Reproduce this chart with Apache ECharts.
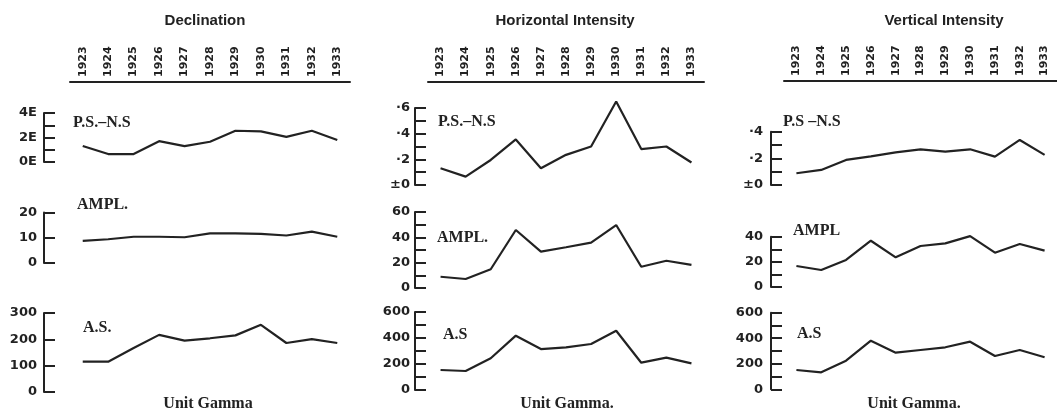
<!DOCTYPE html>
<html><head><meta charset="utf-8">
<script src="https://cdn.jsdelivr.net/npm/echarts@6/dist/echarts.min.js"></script>
<style>html,body{margin:0;padding:0;background:#fff}#c{width:1057px;height:415px}</style>
</head><body><div id="c"></div>
<script>
const years = ['1923','1924','1925','1926','1927','1928','1929','1930','1931','1932','1933'];

const declPsns = [1.3, 0.65, 0.65, 1.7, 1.3, 1.65, 2.55, 2.5, 2.05, 2.55, 1.8];
const declAmpl = [8.8, 9.4, 10.4, 10.4, 10.2, 11.7, 11.7, 11.5, 10.9, 12.4, 10.4];
const declAs   = [115, 115, 167, 217, 195, 204, 215, 255, 186, 201, 186];
const horPsns  = [1.3, 0.65, 1.95, 3.55, 1.3, 2.35, 3.0, 6.5, 2.8, 3.0, 1.75];
const horAmpl  = [8.9, 7.1, 14.8, 45.8, 28.7, 32.2, 35.8, 49.7, 16.8, 21.5, 18.2];
const horAs    = [154, 146, 244, 418, 315, 328, 354, 456, 210, 249, 205];
const vertPsns = [0.88, 1.13, 1.88, 2.15, 2.45, 2.68, 2.5, 2.68, 2.13, 3.38, 2.26];
const vertAmpl = [16.7, 13.5, 21.5, 36.8, 23.6, 32.6, 34.7, 40.5, 27.3, 34.2, 28.9];
const vertAs   = [151, 133, 224, 381, 287, 308, 329, 373, 261, 308, 251];

const declPsnsTicks = ['0E', '', '2E', '', '4E'];
const declAmplTicks = ['0', '10', '20'];
const declAsTicks   = ['0', '100', '200', '300'];
const horPsnsTicks  = ['±0', '', '·2', '', '·4', '', '·6'];
const horAmplTicks  = ['0', '', '20', '', '40', '', '60'];
const horAsTicks    = ['0', '', '200', '', '400', '', '600'];
const vertPsnsTicks = ['±0', '', '·2', '', '·4'];
const vertAmplTicks = ['0', '', '20', '', '40'];
const vertAsTicks   = ['0', '', '200', '', '400', '', '600'];

const columnTitles = ['Declination', 'Horizontal Intensity', 'Vertical Intensity'];
const seriesNames = [
  ['P.S.–N.S', 'AMPL.', 'A.S.'],
  ['P.S.–N.S', 'AMPL.', 'A.S'],
  ['P.S –N.S', 'AMPL', 'A.S']
];
const unitLabels = ['Unit Gamma', 'Unit Gamma.', 'Unit Gamma.'];

// layout
const cols = [
  {left: 70, width: 280, yOff: 26, lblMargin: 7, xTop: 82},
  {left: 428, width: 276, yOff: 13, lblMargin: 5, xTop: 82},
  {left: 784, width: 277, yOff: 13, lblMargin: 8, xTop: 81}
];
const panels = [
  {c:0, r:0, top:113, bottom:162, max:4, interval:1, data:declPsns, ticks:declPsnsTicks},
  {c:0, r:1, top:212.5, bottom:263, max:20, interval:10, data:declAmpl, ticks:declAmplTicks},
  {c:0, r:2, top:313, bottom:392, max:300, interval:100, data:declAs, ticks:declAsTicks},
  {c:1, r:0, top:108, bottom:185, max:6, interval:1, data:horPsns, ticks:horPsnsTicks},
  {c:1, r:1, top:212, bottom:288, max:60, interval:10, data:horAmpl, ticks:horAmplTicks},
  {c:1, r:2, top:312, bottom:390, max:600, interval:100, data:horAs, ticks:horAsTicks},
  {c:2, r:0, top:131.7, bottom:185, max:4, interval:1, data:vertPsns, ticks:vertPsnsTicks},
  {c:2, r:1, top:236.7, bottom:287, max:40, interval:10, data:vertAmpl, ticks:vertAmplTicks},
  {c:2, r:2, top:312.7, bottom:389.3, max:600, interval:100, data:vertAs, ticks:vertAsTicks}
];
const ink = '#222';
const grid = [], xAxis = [], yAxis = [], series = [];
panels.forEach((p, i) => {
  const col = cols[p.c];
  grid.push({left: col.left, width: col.width, top: p.top, height: p.bottom - p.top});
  xAxis.push({
    type: 'category', gridIndex: i, data: years, boundaryGap: true,
    show: p.r === 0, position: 'top', offset: p.r === 0 ? p.top - col.xTop : 0,
    axisLine: {onZero: false, lineStyle: {color: ink, width: 2}},
    axisTick: {length: 4, lineStyle: {color: ink, width: 1.6}},
    axisLabel: {rotate: -90, margin: 5, color: ink, fontSize: 11, fontWeight: 'bold', fontFamily: 'DejaVu Sans', interval: 0},
    splitLine: {show: false}
  });
  const ticks = p.ticks;
  yAxis.push({
    type: 'value', gridIndex: i, min: 0, max: p.max, interval: p.interval,
    offset: col.yOff,
    axisLine: {show: true, onZero: false, lineStyle: {color: ink, width: 2}},
    axisTick: {show: true, inside: true, length: 11, lineStyle: {color: ink, width: 2}},
    axisLabel: {margin: col.lblMargin, color: ink, fontSize: 13, fontWeight: 'bold', fontFamily: 'DejaVu Sans',
      formatter: v => ticks[Math.round(v / p.interval)] || ''},
    splitLine: {show: false}
  });
  series.push({
    type: 'line', xAxisIndex: i, yAxisIndex: i, data: p.data, symbol: 'none', clip: false,
    lineStyle: {color: ink, width: 2.2}
  });
});

const graphic = [];
const titleX = [205, 565, 944];
const nameLabelPos = [
  [[73, 123], [77, 205], [83, 328]],
  [[438, 122], [437, 238], [443, 335]],
  [[783, 122], [793, 231], [797, 334]]
];
const unitX = [208, 567, 914];
for (let c = 0; c < 3; c++) {
  graphic.push({type: 'text', x: titleX[c], y: 21, style: {text: columnTitles[c], fill: ink,
    font: 'bold 15px "Liberation Sans"', textAlign: 'center', textVerticalAlign: 'middle'}});
  for (let r = 0; r < 3; r++) {
    graphic.push({type: 'text', x: nameLabelPos[c][r][0], y: nameLabelPos[c][r][1], style: {text: seriesNames[c][r], fill: ink,
      font: 'bold 16px "Liberation Serif"', textAlign: 'left', textVerticalAlign: 'middle'}});
  }
  graphic.push({type: 'text', x: unitX[c], y: 404, style: {text: unitLabels[c], fill: ink,
    font: 'bold 16px "Liberation Serif"', textAlign: 'center', textVerticalAlign: 'middle'}});
}

const chart = echarts.init(document.getElementById('c'), null, {renderer: 'canvas'});
chart.setOption({backgroundColor: '#fff', animation: false, grid, xAxis, yAxis, series, graphic});
</script></body></html>
